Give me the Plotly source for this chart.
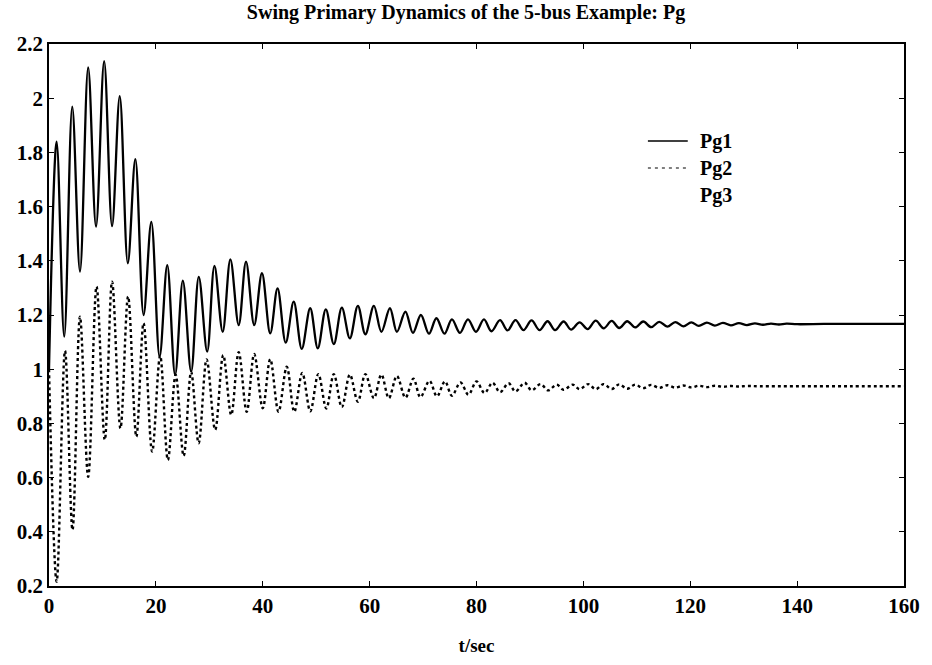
import plotly.graph_objects as go

# Pg1 extrema (time in s, value)
t_pg1 = [0, 1.43, 2.85, 4.35, 5.8, 7.33, 8.8, 10.32, 11.8, 13.24, 14.75, 16.16, 17.7, 19.15, 20.7,
         22.13, 23.6, 25.05, 26.6, 28.03, 29.6, 30.96, 32.5, 33.94, 35.5, 36.87, 38.4, 39.85, 41.4,
         42.77, 44.3, 45.8, 47.3, 48.88, 50.3, 51.8, 53.3, 54.8, 56.3, 57.8, 59.2, 60.8, 62.2, 63.8,
         65.1, 66.7, 68.1, 69.6, 71.1, 72.5, 74.0, 75.4, 76.9, 78.4, 79.9, 81.4, 82.8, 84.4, 85.8,
         87.3, 88.8, 90.3, 91.8, 93.3, 94.7, 96.3, 97.7, 99.3, 100.8,
         102.3, 103.8, 105.3, 106.7, 108.2, 109.7, 111.2, 112.7, 114.2, 115.7, 117.2, 118.7, 120.2,
         121.6, 123.1, 124.6, 126.1, 127.6, 129.1, 130.6, 132.1, 133.6, 135.1, 136.6, 138.0, 140,
         145, 150, 155, 160]
v_pg1 = [1.0, 1.84, 1.12, 1.969, 1.36, 2.114, 1.526, 2.137, 1.528, 2.008, 1.391, 1.775, 1.20, 1.544, 1.046,
         1.384, 0.979, 1.327, 0.991, 1.341, 1.065, 1.381, 1.138, 1.405, 1.163, 1.397, 1.163, 1.354, 1.132,
         1.298, 1.098, 1.249, 1.075, 1.225, 1.077, 1.221, 1.093, 1.227, 1.114, 1.234, 1.129, 1.234, 1.138, 1.225,
         1.138, 1.212, 1.134, 1.200, 1.131, 1.188, 1.131, 1.184, 1.134, 1.184, 1.138, 1.184, 1.140, 1.181, 1.143,
         1.181, 1.144, 1.180, 1.144, 1.177, 1.144, 1.176, 1.146, 1.173, 1.148,
         1.179, 1.151, 1.178, 1.152, 1.177, 1.154, 1.176, 1.155, 1.175, 1.157, 1.174, 1.158, 1.173,
         1.160, 1.172, 1.161, 1.171, 1.162, 1.170, 1.163, 1.169, 1.164, 1.168, 1.165, 1.168, 1.166,
         1.167, 1.167, 1.167, 1.167]

# Pg2 extrema
t_pg2 = [0, 1.43, 3.0, 4.4, 5.8, 7.33, 8.9, 10.44, 11.8, 13.37, 14.8, 16.35, 17.7, 19.3, 20.8,
         22.25, 23.7, 25.2, 26.6, 28.0, 29.5, 31.1, 32.6, 34.1, 35.5, 37.0, 38.4, 40.0, 41.4,
         42.95, 44.5, 45.9, 47.4, 48.9, 50.4, 51.9, 53.3, 54.8, 56.3, 57.8, 59.2, 60.8, 62.2, 63.6,
         65.1, 66.7, 68.2, 69.5, 71.2, 72.6, 74.1, 75.4, 77.0, 78.5, 80.0, 81.5, 83.0, 84.4, 86.0,
         87.3, 89.0, 90.3, 92.0, 93.4, 95.0, 96.3, 98.0, 99.3, 100.9,
         102.3, 103.8, 105.3, 106.7, 108.2, 109.7, 111.2, 112.7, 114.2, 115.7, 117.2, 118.7, 120.2,
         121.6, 123.1, 124.6, 126.1, 127.6, 129.1, 130.6, 133, 140, 150, 160]
v_pg2 = [1.0, 0.216, 1.068, 0.407, 1.194, 0.603, 1.305, 0.739, 1.323, 0.782, 1.268, 0.751, 1.17, 0.696, 1.05,
         0.665, 0.98, 0.68, 0.99, 0.727, 1.036, 0.776, 1.052, 0.831, 1.063, 0.843, 1.056, 0.856, 1.037,
         0.843, 1.009, 0.843, 0.986, 0.845, 0.982, 0.855, 0.982, 0.86, 0.98, 0.88, 0.982, 0.893, 0.98, 0.893,
         0.975, 0.895, 0.965, 0.897, 0.957, 0.90, 0.955, 0.902, 0.951, 0.906, 0.955, 0.912, 0.95, 0.915, 0.948,
         0.918, 0.95, 0.922, 0.945, 0.922, 0.943, 0.924, 0.943, 0.926, 0.945,
         0.926, 0.945, 0.927, 0.944, 0.928, 0.943, 0.930, 0.942, 0.931, 0.941, 0.932, 0.940, 0.933,
         0.939, 0.934, 0.939, 0.935, 0.938, 0.936, 0.938, 0.937, 0.937, 0.937, 0.937]

x_ticks = [0, 20, 40, 60, 80, 100, 120, 140, 160]
y_ticks = [0.2, 0.4, 0.6, 0.8, 1.0, 1.2, 1.4, 1.6, 1.8, 2.0, 2.2]
y_tick_text = ["0.2", "0.4", "0.6", "0.8", "1", "1.2", "1.4", "1.6", "1.8", "2", "2.2"]
series_names = ["Pg1", "Pg2", "Pg3"]

FONT = "Liberation Serif"
TICKFONT = dict(family=FONT, size=21, color="black", weight="bold")

fig = go.Figure()
fig.add_trace(go.Scatter(x=t_pg1, y=v_pg1, mode="lines", name=series_names[0],
                         line=dict(color="black", width=2.3, shape="spline", smoothing=1.0)))
fig.add_trace(go.Scatter(x=t_pg2, y=v_pg2, mode="lines", name=series_names[1],
                         line=dict(color="black", width=2.4, dash="3px,3px", shape="spline", smoothing=1.0)))

# legend drawn in the MATLAB style (long sample line, bold label)
legend_styles = [dict(color="black", width=1.5, dash="solid"),
                 dict(color="black", width=1.2, dash="3px,4px"),
                 None]
x0, x1, xt = (650 - 49) / 858, (690 - 49) / 858, (700 - 49) / 858
for i, name in enumerate(series_names):
    yp = 1 - (141 + 27 * i - 44) / 542
    if legend_styles[i] is not None:
        fig.add_shape(type="line", xref="paper", yref="paper", x0=x0, x1=x1, y0=yp, y1=yp,
                      line=legend_styles[i])
    fig.add_annotation(text=name, xref="paper", yref="paper", x=xt, y=yp, xanchor="left",
                       yanchor="middle", showarrow=False,
                       font=dict(family=FONT, size=20, color="black", weight="bold"))

fig.update_layout(
    width=932, height=665,
    margin=dict(l=49, r=25, t=44, b=79),
    paper_bgcolor="white", plot_bgcolor="white",
    font=dict(family=FONT, color="black", size=18),
    title=dict(text="Swing Primary Dynamics of the 5-bus Example: Pg",
               x=0.5, xref="container", y=0.982, yanchor="middle",
               font=dict(family=FONT, size=20, color="black", weight="bold")),
    showlegend=False,
    xaxis=dict(range=[0, 160], tickvals=x_ticks, ticks="inside", ticklen=5,
               tickcolor="black", showline=True, linecolor="black", linewidth=1.5,
               mirror="ticks", showgrid=False, zeroline=False,
               tickfont=TICKFONT,
               title=dict(text="t/sec", standoff=22,
                          font=dict(family=FONT, size=19, color="black", weight="bold"))),
    yaxis=dict(range=[0.2, 2.2], tickvals=y_ticks, ticktext=y_tick_text, ticks="inside",
               ticklen=5, tickcolor="black", showline=True, linecolor="black", linewidth=1.5,
               mirror="ticks", showgrid=False, zeroline=False,
               tickfont=TICKFONT),
)

fig.write_html("out.html")
